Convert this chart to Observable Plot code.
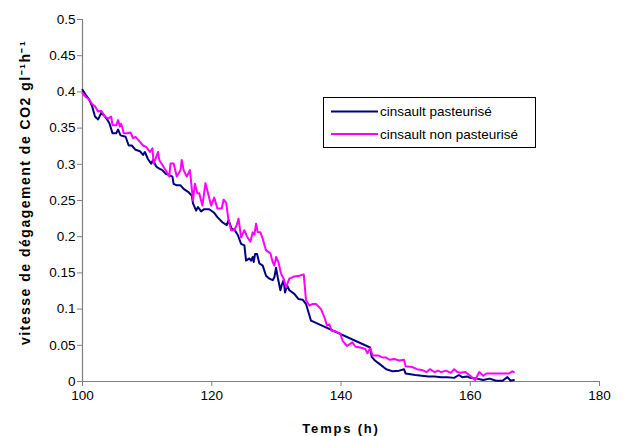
<!DOCTYPE html>
<html><head><meta charset="utf-8">
<script src="https://cdn.jsdelivr.net/npm/d3@7"></script>
<script src="https://cdn.jsdelivr.net/npm/@observablehq/plot@0.6"></script>
<style>
body{margin:0;background:#fff;}
#chart{position:relative;width:631px;height:436px;}
</style></head><body><div id="chart"></div>
<script>
const seriesNames = ["cinsault pasteurisé", "cinsault non pasteurisé"];
const seriesColors = ["#000080", "#ff00ff"];

const timeP = [
  100.0,100.5,101.0,101.5,101.93,102.42,102.90,103.48,104.15,104.64,
  105.22,105.51,105.89,106.67,107.15,107.63,108.21,108.89,109.37,109.66,
  110.14,110.63,110.92,111.40,111.88,112.36,112.85,113.43,113.91,114.10,
  114.59,115.17,115.65,116.33,116.91,117.10,117.58,117.87,118.35,118.84,
  119.61,120.38,120.87,121.64,122.31,122.60,123.09,123.57,124.05,124.54,
  125.05,125.31,125.82,126.08,126.34,126.49,126.70,127.01,127.37,127.89,
  128.40,128.92,129.43,129.69,129.95,130.21,130.62,130.82,131.13,131.34,
  131.65,132.01,132.78,133.40,134.07,134.59,135.36,144.5,144.75,145.25,
  146.0,147.0,148.0,149.0,149.75,150.0,151.5,152.5,153.5,154.5,
  155.5,156.5,157.5,158.25,158.75,159.5,160.0,161.0,162.0,163.0,
  164.0,165.0,165.75,166.25,166.75
];
const rateP = [
  0.403,0.396,0.390,0.380,0.366,0.362,0.371,0.366,0.357,0.343,
  0.343,0.348,0.340,0.338,0.326,0.326,0.320,0.318,0.313,0.317,
  0.307,0.301,0.306,0.297,0.294,0.292,0.287,0.285,0.283,0.273,
  0.271,0.271,0.266,0.262,0.257,0.246,0.236,0.241,0.235,0.238,
  0.238,0.233,0.227,0.220,0.216,0.223,0.211,0.209,0.202,0.190,
  0.188,0.167,0.170,0.167,0.172,0.165,0.176,0.176,0.163,0.160,
  0.146,0.142,0.140,0.144,0.157,0.144,0.126,0.133,0.140,0.123,
  0.133,0.126,0.121,0.114,0.113,0.107,0.084,0.047,0.034,0.029,
  0.024,0.017,0.014,0.015,0.017,0.011,0.009,0.008,0.007,0.007,
  0.006,0.006,0.005,0.009,0.006,0.007,0.005,0.004,0.002,0.004,
  0.001,0.001,0.006,0.001,0.002
];

const timeNP = [
  100.0,100.5,101.0,101.5,101.93,102.42,102.90,103.48,103.96,104.44,
  104.64,105.22,105.51,105.80,105.99,106.38,106.96,107.44,107.82,108.21,
  108.89,109.37,109.85,110.43,110.82,111.01,111.40,111.69,111.88,112.36,
  112.85,113.43,113.62,114.10,114.59,115.17,115.36,115.65,116.13,116.62,
  117.10,117.39,117.77,118.06,118.55,119.03,119.51,119.90,120.38,120.87,
  121.54,121.83,122.22,122.60,122.99,123.47,123.86,124.15,124.54,125.05,
  125.46,125.98,126.34,126.60,126.86,127.11,127.53,127.89,128.40,129.07,
  129.43,129.69,129.95,130.31,130.72,131.13,131.49,132.01,132.78,133.56,
  134.23,134.59,135.10,135.62,136.13,136.91,137.42,137.84,138.20,138.56,
  139.23,139.90,140.26,140.93,141.75,142.25,143.0,143.75,144.1,144.5,
  144.9,145.75,146.5,147.0,147.5,148.25,149.0,149.75,150.0,151.0,
  151.75,152.5,153.25,153.75,154.5,155.0,155.5,156.25,157.0,157.5,
  158.0,158.5,159.25,160.0,160.75,161.4,162.0,162.5,163.5,165.0,
  166.0,166.5,166.75
];
const rateNP = [
  0.398,0.393,0.390,0.383,0.380,0.373,0.374,0.366,0.363,0.366,
  0.354,0.354,0.361,0.352,0.356,0.343,0.343,0.344,0.336,0.338,
  0.331,0.326,0.324,0.317,0.322,0.301,0.310,0.317,0.306,0.299,
  0.292,0.283,0.301,0.301,0.283,0.292,0.306,0.292,0.283,0.292,
  0.250,0.273,0.260,0.260,0.243,0.274,0.257,0.243,0.254,0.239,
  0.239,0.251,0.247,0.223,0.209,0.209,0.216,0.225,0.199,0.209,
  0.200,0.193,0.206,0.203,0.218,0.206,0.206,0.197,0.181,0.177,
  0.165,0.160,0.172,0.165,0.149,0.142,0.130,0.142,0.145,0.146,
  0.148,0.112,0.105,0.107,0.107,0.100,0.089,0.077,0.079,0.070,
  0.069,0.066,0.056,0.049,0.054,0.048,0.047,0.045,0.039,0.046,
  0.036,0.036,0.033,0.033,0.030,0.031,0.029,0.030,0.021,0.020,
  0.017,0.016,0.013,0.017,0.013,0.015,0.013,0.015,0.012,0.017,
  0.013,0.012,0.013,0.008,0.002,0.013,0.008,0.011,0.011,0.011,
  0.011,0.014,0.013
];

const xTicks = [100, 120, 140, 160, 180];
const yTicks = [0, 0.05, 0.1, 0.15, 0.2, 0.25, 0.3, 0.35, 0.4, 0.45, 0.5];
const xTitle = "Temps (h)";
const yTitle = "vitesse de dégagement de CO2 gl⁻¹h⁻¹";

const rows = [
  ...timeP.map((t, i) => ({t, v: rateP[i], s: seriesNames[0]})),
  ...timeNP.map((t, i) => ({t, v: rateNP[i], s: seriesNames[1]}))
];
const fmt = d => String(+(+d).toFixed(2));
const FONT = "'Liberation Sans', Arial, Helvetica, sans-serif";

const plot = Plot.plot({
  width: 631, height: 436,
  marginLeft: 82, marginRight: 32, marginTop: 19, marginBottom: 55,
  style: {fontFamily: FONT, fontSize: "13.5px", color: "#000", background: "#fff", overflow: "visible"},
  x: {domain: [100, 180]},
  y: {domain: [0, 0.5]},
  color: {domain: seriesNames, range: seriesColors},
  marks: [
    Plot.axisX({ticks: xTicks, tickSize: 5, tickPadding: 4, tickFormat: fmt, label: null, stroke: "#808080", fill: "#000"}),
    Plot.axisY({ticks: yTicks, tickSize: 5, tickPadding: 2, tickFormat: fmt, label: null, stroke: "#808080", fill: "#000"}),
    Plot.ruleX([100], {stroke: "#808080", strokeWidth: 1.2}),
    Plot.ruleY([0], {stroke: "#808080", strokeWidth: 1.2}),
    Plot.line(rows, {x: "t", y: "v", z: "s", stroke: "s", strokeWidth: 2, curve: "linear"}),
    Plot.text([xTitle], {frameAnchor: "bottom", dy: 47, textAnchor: "middle", lineAnchor: "middle", fontWeight: "bold", fontSize: 13, fill: "#000"}),
    Plot.text([yTitle], {frameAnchor: "left", rotate: -90, dx: -57, dy: -8, textAnchor: "middle", lineAnchor: "middle", fontWeight: "bold", fontSize: 14, fill: "#000"})
  ]
});

const svg = d3.select(plot);
svg.selectAll("text").filter(function(){ return this.textContent === xTitle; }).style("letter-spacing", "1.8px");
svg.selectAll("text").filter(function(){ return this.textContent === yTitle; }).style("letter-spacing", "1.5px");

// legend box
const lg = svg.append("g").attr("font-family", FONT).attr("font-size", 13.5).attr("text-anchor", "start");
lg.append("rect").attr("x", 323.5).attr("y", 97.5).attr("width", 212).attr("height", 50)
  .attr("fill", "#fff").attr("stroke", "#000").attr("stroke-width", 1);
seriesNames.forEach((name, i) => {
  const cy = 111.5 + i * 22.5;
  lg.append("line").attr("x1", 331).attr("x2", 378).attr("y1", cy).attr("y2", cy)
    .attr("stroke", seriesColors[i]).attr("stroke-width", 2);
  lg.append("text").attr("x", 380).attr("y", cy).attr("dy", "0.35em").attr("fill", "#000")
    .attr("text-anchor", "start").text(name);
});

document.getElementById("chart").appendChild(plot);
</script>
</body></html>
